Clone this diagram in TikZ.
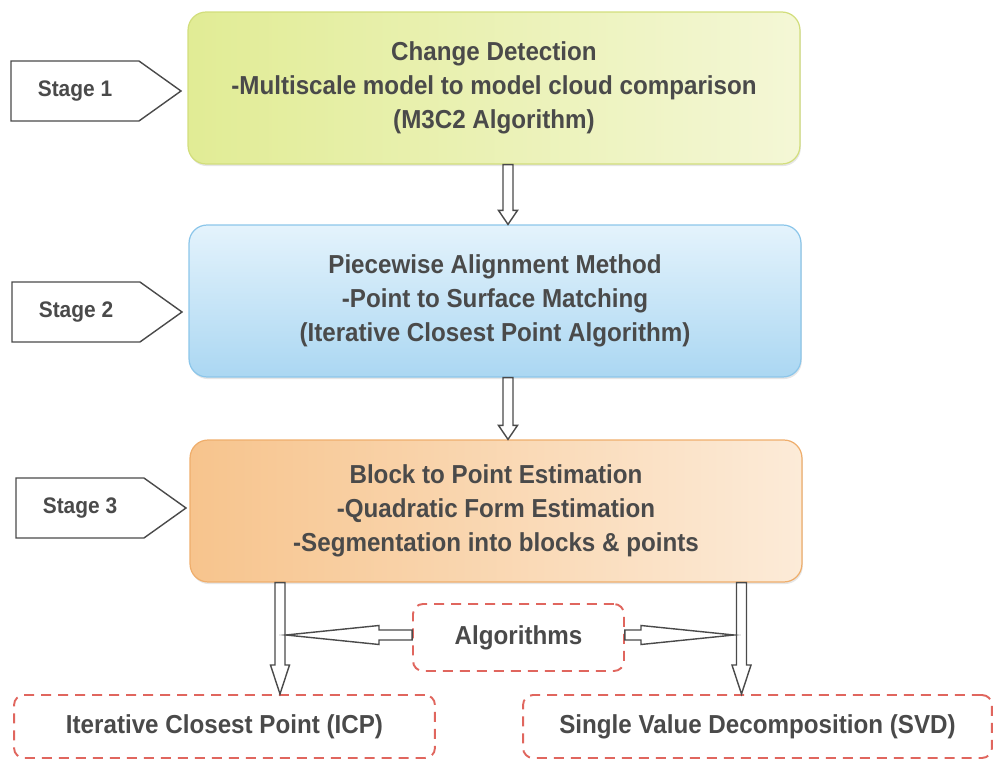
\documentclass[tikz,border=0pt]{standalone}
\usepackage{fontspec}
\setmainfont{Liberation Sans}[BoldFeatures={FakeStretch=0.93}]
\usetikzlibrary{shapes.symbols,calc,shadows}

\definecolor{txt}{HTML}{4A4A4A}
\definecolor{dashred}{HTML}{E0665E}
\definecolor{limeA}{HTML}{E1EC95}
\definecolor{limeB}{HTML}{F4F7D6}
\definecolor{limeD}{HTML}{D2DE7C}
\definecolor{skyA}{HTML}{E4F3FC}
\definecolor{skyB}{HTML}{ABD7F2}
\definecolor{skyD}{HTML}{8CC6EA}
\definecolor{peachA}{HTML}{F7C48D}
\definecolor{peachB}{HTML}{FCEBD8}
\definecolor{peachD}{HTML}{EFAE6C}

\tikzset{
    mainbox/.style={rounded corners=0.36cm, minimum width=12.24cm, align=center,
        text=txt, line width=0.7pt, font=\fontsize{14.8}{19.3}\selectfont\bfseries,
        drop shadow={opacity=0.2, shadow xshift=0.5pt, shadow yshift=-1.2pt}},
    stagebox/.style={signal, signal to=east, signal pointer angle=71, draw=txt,
        line width=0.8pt, fill=white, minimum width=3.4cm, minimum height=1.2cm,
        text=txt, font=\fontsize{12.8}{15}\selectfont\bfseries},
    algobox/.style={draw=dashred, dash pattern=on 0.2cm off 0.14cm, line width=1.1pt,
        rounded corners=0.2cm, text=txt, font=\fontsize{14.8}{19.3}\selectfont\bfseries},
    hollow/.style={draw=txt, fill=white, line width=0.8pt, line join=miter}
}

% block arrow drawn as an outline: [head length]{from}{to}
\newcommand{\hollowarrow}[3][0.28cm]{%
    \coordinate (hb) at ($(#3)!#1!(#2)$);
    \draw[hollow] ($(#2)!0.1cm!90:(#3)$) -- ($(hb)!0.1cm!-90:(#2)$)
        -- ($(hb)!0.19cm!-90:(#2)$) -- (#3) -- ($(hb)!0.19cm!90:(#2)$)
        -- ($(hb)!0.1cm!90:(#2)$) -- ($(#2)!0.1cm!-90:(#3)$) -- cycle;
}

\begin{document}
\begin{tikzpicture}[x=0.02cm, y=-0.02cm]
    \useasboundingbox (0,0) rectangle (995,760);

    \node[mainbox, draw=limeD, left color=limeA, right color=limeB, minimum height=3.04cm]
        (detect) at (494,88) {Change Detection\\-Multiscale model to model cloud comparison\\(M3C2 Algorithm)};
    \node[mainbox, draw=skyD, top color=skyA, bottom color=skyB, minimum height=3.04cm]
        (align) at (495,301) {Piecewise Alignment Method\\-Point to Surface Matching\\(Iterative Closest Point Algorithm)};
    \node[mainbox, draw=peachD, left color=peachA, right color=peachB, minimum height=2.84cm]
        (estim) at (496,511) {Block to Point Estimation\\-Quadratic Form Estimation\\-Segmentation into blocks \& points};

    \node[stagebox] (stage1) at (75,91) {Stage 1};
    \node[stagebox] (stage2) at (76,312) {Stage 2};
    \node[stagebox] (stage3) at (80,508) {Stage 3};

    \node[algobox, minimum width=4.22cm, minimum height=1.34cm] (algo) at (518.5,637.5) {Algorithms};
    \node[algobox, minimum width=8.42cm, minimum height=1.26cm] (icp) at (224.5,726.5) {Iterative Closest Point (ICP)};
    \node[algobox, minimum width=9.38cm, minimum height=1.26cm] (svd) at (757.5,726.5) {Single Value Decomposition (SVD)};

    \coordinate (midx) at (508,0);
    \coordinate (icpx) at (280,0);
    \coordinate (svdx) at (741.5,0);
    \coordinate (ltip) at (286,0);
    \coordinate (rtip) at (734,0);

    \coordinate (d1) at (detect.south -| midx);
    \coordinate (a1) at (align.north -| midx);
    \coordinate (d2) at (align.south -| midx);
    \coordinate (e2) at (estim.north -| midx);
    \coordinate (e3) at (estim.south -| icpx);
    \coordinate (i3) at (icp.north -| icpx);
    \coordinate (e4) at (estim.south -| svdx);
    \coordinate (s4) at (svd.north -| svdx);
    \coordinate (al) at (algo.west |- 0,635);
    \coordinate (ar) at (algo.east |- 0,635);
    \coordinate (lt) at (ltip |- al);
    \coordinate (rt) at (rtip |- ar);

    \hollowarrow{d1}{a1}
    \hollowarrow{d2}{e2}
    \hollowarrow[0.58cm]{e3}{i3}
    \hollowarrow[0.58cm]{e4}{s4}
    \hollowarrow[1.86cm]{al}{lt}
    \hollowarrow[1.86cm]{ar}{rt}
\end{tikzpicture}
\end{document}
